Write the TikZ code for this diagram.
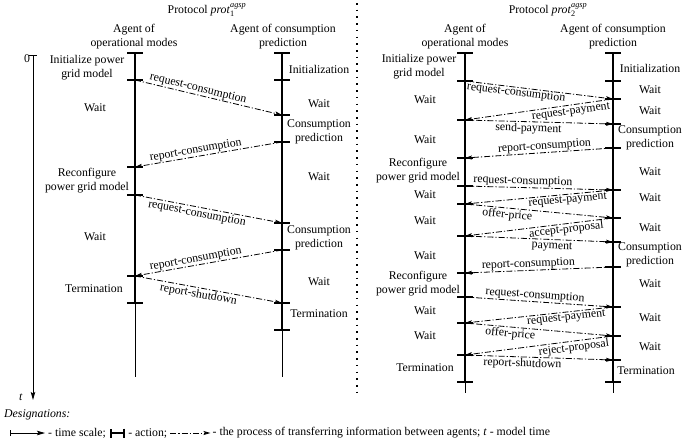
\documentclass[tikz,border=0pt]{standalone}
\usepackage{amsmath}
\usepackage{fontspec}
\setmainfont{Liberation Serif}
\usetikzlibrary{arrows.meta}
\begin{document}
\begin{tikzpicture}[x=1pt,y=-1pt,
  txt/.style={font=\fontsize{11.8}{14}\selectfont, align=center, inner sep=0pt},
  lbl/.style={font=\fontsize{11.8}{14}\selectfont, sloped, inner sep=0.6pt},
  lblb/.style={lbl, below, inner sep=1.2pt},
  lbla/.style={lbl, above, inner sep=0.6pt},
  msg/.style={line width=0.8pt, dash pattern=on 6pt off 2pt on 1.2pt off 2pt,
    -{Stealth[length=7pt,width=4pt,inset=1.5pt]}},
  lifethin/.style={line width=0.9pt},
  lifethick/.style={line width=2.6pt},
  tickmark/.style={line width=2.4pt},
  sep/.style={line width=1.6pt, dash pattern=on 1.6pt off 5.1pt}
]
\useasboundingbox (0,0) rectangle (682,447);

% ---------- titles ----------
\node[txt] (title1) at (207,10) {Protocol \textit{prot}$_{\text{1}}^{\textit{agsp}}$};
\node[txt] (title2) at (548,10) {Protocol \textit{prot}$_{\text{2}}^{\textit{agsp}}$};
\node[txt] (h1) at (134,36.5) {Agent of\\operational modes};
\node[txt] (h2) at (283,36.5) {Agent of consumption\\prediction};
\node[txt] (h3) at (465,36.5) {Agent of\\operational modes};
\node[txt] (h4) at (613,36.5) {Agent of consumption\\prediction};

% ---------- separator ----------
\coordinate (s1) at (357,3);
\coordinate (s2) at (357,396);
\draw[sep] (s1) -- (s2);

% ---------- time axis ----------
\coordinate (t0) at (33,55);
\coordinate (t1) at (33,400);
\draw[line width=0.8pt, -{Stealth[length=8pt,width=4.5pt,inset=1.5pt]}] (t0) -- (t1);
\draw[line width=0.8pt] ([xshift=-4pt]t0) -- ([xshift=4pt]t0);
\node[txt] (zero) at (27,59) {0};
\node[txt] (tlab) at (21,397) {\textit{t}};

% ---------- lifeline coordinates ----------
\foreach \yy [count=\i] in {53,80,167,195,276,303} \coordinate (a\i) at (135,\yy);
\foreach \yy [count=\i] in {53,80,115,142,223,250,303,330} \coordinate (b\i) at (282,\yy);
\foreach \yy [count=\i] in {53,81,120,158,186,204,236,273,297,323,355,382} \coordinate (c\i) at (465,\yy);
\foreach \yy [count=\i] in {53,81,99,124,148,190,218,242,267,307,336,360,382} \coordinate (d\i) at (613,\yy);
\coordinate (aend) at (135,377);
\coordinate (bend) at (282,377);
\coordinate (cend) at (465,393);
\coordinate (dend) at (613,393);

% lifelines
\draw[lifethin] (a1) -- (aend);
\draw[lifethin] (b1) -- (bend);
\draw[lifethin] (c1) -- (cend);
\draw[lifethin] (d1) -- (dend);
\draw[lifethick] (a1) -- (a6);
\draw[lifethick] (b1) -- (b8);
\draw[lifethick] (c1) -- (c12);
\draw[lifethick] (d1) -- (d13);
\foreach \i in {1,...,6} \draw[tickmark] ([xshift=-8pt]a\i) -- ([xshift=8pt]a\i);
\foreach \i in {1,...,8} \draw[tickmark] ([xshift=-8pt]b\i) -- ([xshift=8pt]b\i);
\foreach \i in {1,...,12} \draw[tickmark] ([xshift=-8pt]c\i) -- ([xshift=8pt]c\i);
\foreach \i in {1,...,13} \draw[tickmark] ([xshift=-8pt]d\i) -- ([xshift=8pt]d\i);

% ---------- left panel activities ----------
\node[txt] (la1) at (87,67.5) {Initialize power\\grid model};
\node[txt] (la2) at (95,108) {Wait};
\node[txt] (la3) at (87,180.5) {Reconfigure\\power grid model};
\node[txt] (la4) at (95,237) {Wait};
\node[txt] (la5) at (94,289) {Termination};
\node[txt] (lb1) at (319,69) {Initialization};
\node[txt] (lb2) at (319,104) {Wait};
\node[txt] (lb3) at (319,132) {Consumption\\prediction};
\node[txt] (lb4) at (319,177) {Wait};
\node[txt] (lb5) at (319,238) {Consumption\\prediction};
\node[txt] (lb6) at (319,282) {Wait};
\node[txt] (lb7) at (319,314) {Termination};

% ---------- right panel activities ----------
\node[txt] (rc1) at (419,67) {Initialize power\\grid model};
\node[txt] (rc2) at (425,100) {Wait};
\node[txt] (rc3) at (425,140) {Wait};
\node[txt] (rc4) at (418,171) {Reconfigure\\power grid model};
\node[txt] (rc5) at (425,195) {Wait};
\node[txt] (rc6) at (425,221) {Wait};
\node[txt] (rc7) at (425,256) {Wait};
\node[txt] (rc8) at (418,284) {Reconfigure\\power grid model};
\node[txt] (rc9) at (425,311) {Wait};
\node[txt] (rc10) at (425,336) {Wait};
\node[txt] (rc11) at (425,368) {Termination};
\node[txt] (rd1) at (650,68) {Initialization};
\node[txt] (rd2) at (650,90) {Wait};
\node[txt] (rd3) at (650,111) {Wait};
\node[txt] (rd4) at (650,137.5) {Consumption\\prediction};
\node[txt] (rd5) at (650,172) {Wait};
\node[txt] (rd6) at (650,198) {Wait};
\node[txt] (rd7) at (650,228) {Wait};
\node[txt] (rd8) at (650,255) {Consumption\\prediction};
\node[txt] (rd9) at (650,284) {Wait};
\node[txt] (rd10) at (650,318) {Wait};
\node[txt] (rd11) at (650,347) {Wait};
\node[txt] (rd12) at (646,371) {Termination};

% ---------- left panel messages ----------
\draw[msg] (a2) -- node[lbla,pos=0.42] {request-consumption} (b3);
\draw[msg] (b4) -- node[lbla,pos=0.58] {report-consumption} (a3);
\draw[msg] (a4) -- node[lblb,pos=0.43] {request-consumption} (b5);
\draw[msg] (b6) -- node[lbla,pos=0.58] {report-consumption} (a5);
\draw[msg] (a5) -- node[lblb,pos=0.44] {report-shutdown} (b7);

% ---------- right panel messages ----------
\draw[msg] (c2) -- node[lbl,below,inner sep=0.2pt,pos=0.35] {request-consumption} (d3);
\draw[msg] (d3) -- node[lbl,below,inner sep=2.2pt,pos=0.29] {request-payment} (c3);
\draw[msg] (c3) -- node[lblb,pos=0.43] {send-payment} (d4);
\draw[msg] (d5) -- node[lbla,pos=0.46] {report-consumption} (c4);
\draw[msg] (c5) -- node[lbla,pos=0.39] {request-consumption} (d6);
\draw[msg] (d6) -- node[lblb,pos=0.31] {request-payment} (c6);
\draw[msg] (c6) -- node[lblb,pos=0.29] {offer-price} (d7);
\draw[msg] (d7) -- node[lbl,below,inner sep=0.4pt,pos=0.32] {accept-proposal} (c7);
\draw[msg] (c7) -- node[lbl,below,inner sep=2.2pt,pos=0.59] {payment} (d8);
\draw[msg] (d9) -- node[lbla,pos=0.57] {report-consumption} (c8);
\draw[msg] (c9) -- node[lbla,pos=0.47] {request-consumption} (d10);
\draw[msg] (d10) -- node[lblb,pos=0.32] {request-payment} (c10);
\draw[msg] (c10) -- node[lblb,pos=0.31] {offer-price} (d11);
\draw[msg] (d11) -- node[lblb,pos=0.27] {reject-proposal} (c11);
\draw[msg] (c11) -- node[lblb,pos=0.39] {report-shutdown} (d12);

% ---------- legend ----------
\node[txt, anchor=west] (des) at (4,415) {\textit{Designations:}};
\coordinate (g1a) at (10,433);
\coordinate (g1b) at (45,433);
\draw[line width=0.8pt, {Bar[width=6pt]}-{Stealth[length=8pt,width=4.5pt,inset=1.5pt]}] (g1a) -- (g1b);
\node[txt, anchor=west] (lg1) at ([xshift=3pt]g1b) {- time scale;};
\coordinate (g2a) at ([xshift=4pt]lg1.east);
\coordinate (g2b) at ([xshift=15pt]g2a);
\draw[line width=2.2pt, {Bar[width=9pt]}-{Bar[width=9pt]}] (g2a) -- (g2b);
\node[txt, anchor=west] (lg2) at ([xshift=3pt]g2b) {- action;};
\coordinate (g3a) at ([xshift=3pt]lg2.east);
\coordinate (g3b) at ([xshift=40pt]g3a);
\draw[msg] (g3a) -- (g3b);
\node[txt, anchor=west] (lg3) at ([xshift=2pt]g3b) {- the process of transferring information between agents; \textit{t} - model time};
\end{tikzpicture}
\end{document}
